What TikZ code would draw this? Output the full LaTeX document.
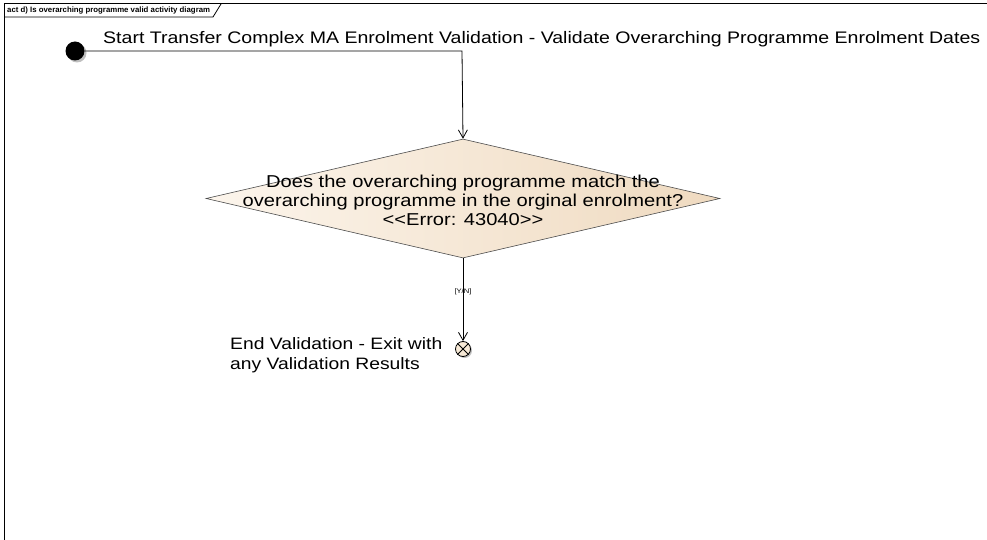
\documentclass[tikz,border=0pt]{standalone}
\usepackage{fontspec}
\setmainfont{Liberation Sans}
\newfontfamily\widefont[FakeStretch=1.17]{Liberation Sans}
\usetikzlibrary{arrows.meta,shapes.geometric}
\definecolor{nodefill}{HTML}{F7E9D6}
\definecolor{nodefillL}{HTML}{FCF5EC}
\definecolor{nodefillR}{HTML}{EFDAC0}
\tikzset{
  x=1pt, y=-1pt,
  every node/.style={inner sep=0pt},
  flow/.style={draw=black, line width=0.8pt, -{Straight Barb[length=8pt,width=9pt,line width=0.8pt]}},
  framebox/.style={draw=black, line width=1pt},
  shadowc/.style={circle, fill=black!25, draw=none},
}
\begin{document}
\begin{tikzpicture}
\useasboundingbox (0,0) rectangle (987,540);
% frame
\draw[framebox] (4,540) -- (4,4) -- (987,4);
\draw[line width=0.8pt] (4,17) -- (213,17) -- (221,4);
\node[anchor=west, font=\fontsize{7.8}{8}\selectfont\bfseries] (tab) at (7,11) {act d) Is overarching programme valid activity diagram};
% start
\node[shadowc, minimum size=19pt] at (77,53) {};
\node[circle, fill=black, minimum size=19pt] (start) at (75,51) {};
\node[anchor=base west, font=\widefont\fontsize{16.7}{18}\selectfont] (startlbl) at (103,44) {Start Transfer Complex MA Enrolment Validation - Validate Overarching Programme Enrolment Dates};
% decision
\node[diamond, minimum width=514pt, minimum height=119pt, draw=black!70, line width=0.6pt, left color=nodefillL, right color=nodefillR] (dec) at (463,198.5) {};
\node[anchor=base, align=center, font=\widefont\fontsize{17.2}{19}\selectfont] (dectext) at (463,225) {Does the overarching programme match the\\overarching programme in the orginal enrolment?\\{<}{<}Error: 43040{>}{>}};
% end
\node[shadowc, minimum size=15pt] at (464.5,350.5) {};
\node[circle, fill=nodefill, draw=black, line width=0.8pt, minimum size=15pt] (end) at (463,349) {};
\draw[line width=0.8pt] (end.45) -- (end.225) (end.135) -- (end.315);
\node[anchor=base west, align=left, font=\widefont\fontsize{16.5}{20}\selectfont] (endlbl) at (230,369) {End Validation - Exit with\\any Validation Results};
% connectors
\draw[flow] (start.east) -- (462,51) -- (dec.north);
\draw[flow] (dec.south) -- (end.north) node[pos=0.4, font=\widefont\fontsize{6.5}{7}\selectfont] (yn) {[Y/N]};
\end{tikzpicture}
\end{document}
